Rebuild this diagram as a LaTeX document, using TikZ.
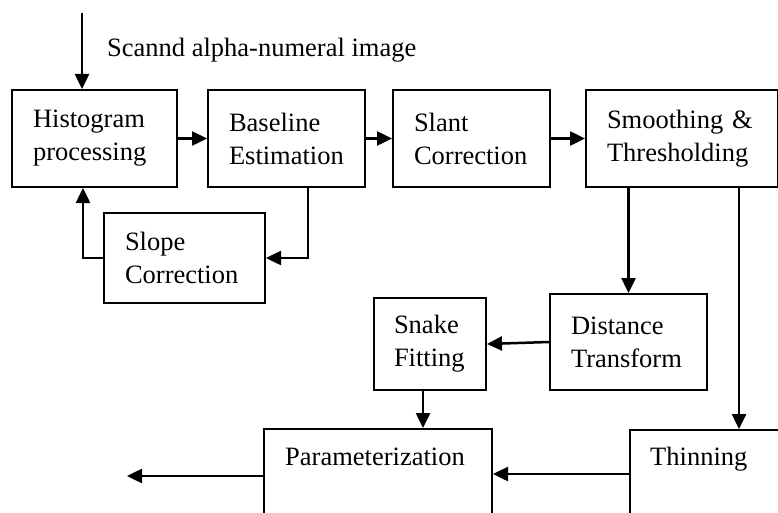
\documentclass[tikz,border=0pt]{standalone}
\usepackage{fontspec}
\setmainfont{Liberation Serif}
\usetikzlibrary{arrows.meta}
\begin{document}
\begin{tikzpicture}[x=1pt,y=-1pt,
  txt/.style={font=\fontsize{26.5}{33}\selectfont},
  box/.style={draw, line width=2pt, anchor=north west, align=left, inner xsep=21pt, inner ysep=0pt, txt},
  openbox/.style={draw, line width=2pt, anchor=north west, inner sep=0pt},
  conn/.style={line width=2.5pt, -{Triangle[length=15pt,width=14pt]}}]
\useasboundingbox (0,0) rectangle (778,513);
\clip (0,0) rectangle (778,513);
% boxes
\node[box, text width=123pt, minimum height=97pt] (hist) at (11,89) {Histogram\\processing};
\node[box, text width=115pt, minimum height=97pt] (base) at (207,89) {Baseline\\Estimation};
\node[box, text width=115pt, minimum height=97pt] (slant) at (392,89) {Slant\\Correction};
\node[box, text width=150pt, minimum height=97pt] (smooth) at (585,89) {Smoothing \&\\Thresholding};
\node[box, text width=119pt, minimum height=90pt] (slope) at (103,212) {Slope\\Correction};
\node[box, text width=115pt, minimum height=96pt] (dist) at (549,293) {Distance\\Transform};
\node[box, text width=72pt, inner xsep=20pt, minimum height=92pt] (snake) at (373,297) {Snake\\Fitting};
\node[openbox, minimum width=228pt, minimum height=130pt,
  label={[txt, anchor=north west, inner sep=0pt, xshift=22pt, yshift=-20pt]north west:Parameterization}] (param) at (263,428) {};
\node[openbox, minimum width=200pt, minimum height=130pt,
  label={[txt, anchor=north west, inner sep=0pt, xshift=21pt, yshift=-18pt]north west:Thinning}] (thin) at (629,429) {};
% input
\coordinate (in) at (82,13);
\node[txt, anchor=base west, inner sep=0pt] (cap) at (107,57) {Scannd alpha-numeral image};
\draw[conn] (in) -- (in |- hist.north);
% connectors
\draw[conn] (hist.east) -- (base.west);
\draw[conn] (base.east) -- (slant.west);
\draw[conn] (slant.east) -- (smooth.west);
\draw[conn] ([xshift=21.5pt]base.south) |- (slope.east);
\draw[conn] (slope.west) -| ([xshift=-11.5pt]hist.south);
\draw[conn] (smooth.south -| dist.north) -- (dist.north);
\draw[conn] ([xshift=57pt]smooth.south) -- ([xshift=57pt]smooth.south |- thin.north);
\draw[conn] (dist.west) -- (snake.east);
\draw[conn] ([xshift=-7pt]snake.south) -- ([xshift=-7pt]snake.south |- param.north);
\draw[conn] ([yshift=21pt]thin.west) -- ([yshift=21pt]thin.west -| param.east);
\coordinate (out) at (127,476);
\draw[conn] (param.west |- out) -- (out);
\end{tikzpicture}
\end{document}
